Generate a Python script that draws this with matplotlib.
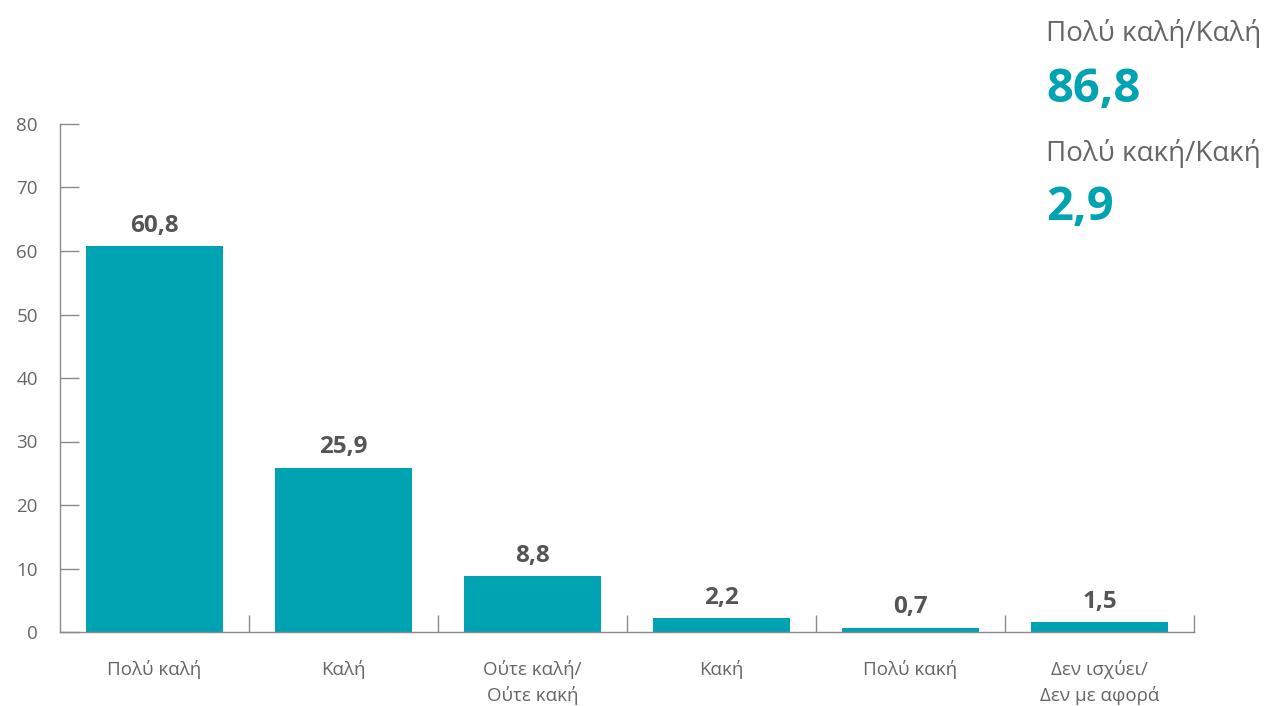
import matplotlib
matplotlib.use("Agg")
import matplotlib.pyplot as plt
from matplotlib.ticker import FixedLocator

plt.rcParams['font.family'] = ['Open Sans', 'DejaVu Sans']

categories = ["Πολύ καλή", "Καλή", "Ούτε καλή/\nΟύτε κακή", "Κακή", "Πολύ κακή", "Δεν ισχύει/\nΔεν με αφορά"]
values = [60.8, 25.9, 8.8, 2.2, 0.7, 1.5]
value_labels = ["60,8", "25,9", "8,8", "2,2", "0,7", "1,5"]
y_ticks = [0, 10, 20, 30, 40, 50, 60, 70, 80]
summary_titles = ["Πολύ καλή/Καλή", "Πολύ κακή/Κακή"]
summary_values = ["86,8", "2,9"]

TEAL = "#00A3B1"
AXIS = "#8a8a8a"
TEXT = "#666666"
LABEL = "#555555"

fig = plt.figure(figsize=(12.68, 7.06), dpi=100)
ax = fig.add_axes([60/1268, 1 - 632/706, (1194-60)/1268, (632-124)/706])

x = list(range(len(categories)))
ax.bar(x, values, width=0.72, color=TEAL, zorder=2)
for xi, v, lab in zip(x, values, value_labels):
    ax.text(xi, v + 1.3, lab, ha='center', va='bottom', fontsize=17.5,
            fontweight='bold', color=LABEL)

ax.set_xlim(-0.5, len(categories) - 0.5)
ax.set_ylim(0, 80)

for s in ['top', 'right']:
    ax.spines[s].set_visible(False)
for s in ['left', 'bottom']:
    ax.spines[s].set_color(AXIS)
    ax.spines[s].set_linewidth(1.0)

ax.set_yticks(y_ticks)
ax.set_yticklabels([str(t) for t in y_ticks])
ax.tick_params(axis='y', direction='in', length=14, color=AXIS, width=1,
               labelsize=13.5, labelcolor=TEXT, pad=16)

ax.set_xticks(x)
ax.set_xticklabels(categories)
ax.tick_params(axis='x', length=0, labelsize=13.5, labelcolor=TEXT, pad=20)
ax.xaxis.set_minor_locator(FixedLocator([i + 0.5 for i in x]))
ax.tick_params(axis='x', which='minor', direction='in', length=12, color=AXIS, width=1)
for lbl in ax.get_xticklabels():
    lbl.set_linespacing(1.45)

fig.text(1046/1268, 1 - 34/706, summary_titles[0], ha='left', va='center',
         fontsize=20, color=TEXT)
fig.text(1046/1268, 1 - 89/706, summary_values[0], ha='left', va='center',
         fontsize=34, fontweight='bold', color=TEAL)
fig.text(1046/1268, 1 - 153/706, summary_titles[1], ha='left', va='center',
         fontsize=20, color=TEXT)
fig.text(1046/1268, 1 - 207/706, summary_values[1], ha='left', va='center',
         fontsize=34, fontweight='bold', color=TEAL)

fig.savefig("out.png", dpi=100)
